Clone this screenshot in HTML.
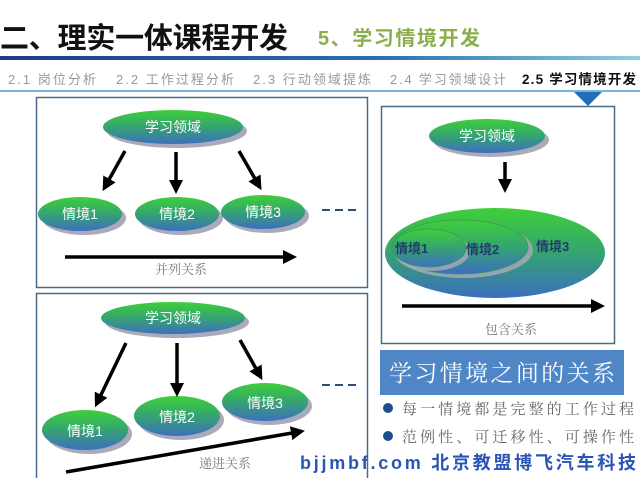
<!DOCTYPE html>
<html><head><meta charset="utf-8"><style>
body{margin:0;background:#fff;}
svg{display:block;font-family:"Liberation Sans","Noto Sans CJK SC",sans-serif;}
</style></head><body>
<svg width="640" height="478" viewBox="0 0 640 478" xmlns="http://www.w3.org/2000/svg">
<defs>
<linearGradient id="g" x1="0" y1="0" x2="0" y2="1"><stop offset="0" stop-color="#3fcf3a"/><stop offset="0.45" stop-color="#35a86a"/><stop offset="1" stop-color="#3c6fbf"/></linearGradient>
<linearGradient id="hl" x1="0" y1="0" x2="1" y2="0"><stop offset="0" stop-color="#1f3a8a"/><stop offset="0.6" stop-color="#2a6fb0"/><stop offset="1" stop-color="#8fd0e0"/></linearGradient>
<marker id="ah" markerWidth="4" markerHeight="4" refX="2" refY="2" orient="auto" markerUnits="strokeWidth"><path d="M0,0 L4,2 L0,4z" fill="#000"/></marker>
</defs>
<text x="0" y="48" font-size="29" font-weight="bold" fill="#111" textLength="288">二、理实一体课程开发</text>
<text x="318" y="45" font-size="20" font-weight="bold" fill="#8aae4a" textLength="162">5、学习情境开发</text>
<rect x="0" y="56" width="640" height="4" fill="url(#hl)"/>
<g font-size="13" fill="#999">
<text x="8" y="84" textLength="88">2.1 岗位分析</text><text x="116" y="84" textLength="118">2.2 工作过程分析</text><text x="253" y="84" textLength="118">2.3 行动领域提炼</text><text x="390" y="84" textLength="116">2.4 学习领域设计</text>
</g>
<text x="522" y="84" font-size="13.5" font-weight="bold" fill="#111" textLength="114">2.5 学习情境开发</text>
<line x1="0" y1="91" x2="640" y2="91" stroke="#4a9ec8" stroke-width="1.5"/>
<path d="M574,92 L602,92 L588,106z" fill="#1f6fb8"/>

<rect x="36.5" y="97.5" width="331" height="190" fill="#fff" stroke="#4a6a8a" stroke-width="1.5"/>
<rect x="36.5" y="293.5" width="331" height="190" fill="#fff" stroke="#4a6a8a" stroke-width="1.5"/>
<rect x="381.5" y="106.5" width="233" height="237" fill="#fff" stroke="#4a6a8a" stroke-width="1.5"/>

<g font-size="14" fill="#fff" text-anchor="middle">
<ellipse cx="177" cy="131" rx="70" ry="17" fill="#aab"/>
<ellipse cx="173" cy="127" rx="70" ry="17" fill="url(#g)"/><text x="173" y="132">学习领域</text>
<ellipse cx="84" cy="218" rx="42" ry="17" fill="#aab"/><ellipse cx="80" cy="214" rx="42" ry="17" fill="url(#g)"/><text x="80" y="219">情境1</text>
<ellipse cx="181" cy="218" rx="42" ry="17" fill="#aab"/><ellipse cx="177" cy="214" rx="42" ry="17" fill="url(#g)"/><text x="177" y="219">情境2</text>
<ellipse cx="267" cy="216" rx="42" ry="17" fill="#aab"/><ellipse cx="263" cy="212" rx="42" ry="17" fill="url(#g)"/><text x="263" y="217">情境3</text>
<ellipse cx="177" cy="322" rx="72" ry="16" fill="#aab"/><ellipse cx="173" cy="318" rx="72" ry="16" fill="url(#g)"/><text x="173" y="323">学习领域</text>
<ellipse cx="89" cy="434" rx="43" ry="20" fill="#aab"/><ellipse cx="85" cy="430" rx="43" ry="20" fill="url(#g)"/><text x="85" y="436">情境1</text>
<ellipse cx="181" cy="420" rx="43" ry="20" fill="#aab"/><ellipse cx="177" cy="416" rx="43" ry="20" fill="url(#g)"/><text x="177" y="422">情境2</text>
<ellipse cx="269" cy="406" rx="43" ry="19" fill="#aab"/><ellipse cx="265" cy="402" rx="43" ry="19" fill="url(#g)"/><text x="265" y="408">情境3</text>
<ellipse cx="491" cy="140" rx="58" ry="17" fill="#aab"/><ellipse cx="487" cy="136" rx="58" ry="17" fill="url(#g)"/><text x="487" y="141">学习领域</text>
</g>
<ellipse cx="495" cy="253" rx="110" ry="45" fill="url(#g)"/>
<ellipse cx="463" cy="250" rx="70" ry="28" fill="#aab" opacity="0.8"/>
<ellipse cx="460" cy="247" rx="68" ry="27" fill="url(#g)" stroke="#3a9a50" stroke-width="0.8"/>
<ellipse cx="432" cy="251" rx="38" ry="20" fill="#aab" opacity="0.8"/>
<ellipse cx="429" cy="248" rx="37" ry="19" fill="url(#g)" stroke="#3a9a50" stroke-width="0.8"/>
<g font-size="13" fill="#1f3d6a" font-weight="bold">
<text x="395" y="253">情境1</text><text x="466" y="254">情境2</text><text x="536" y="251">情境3</text>
</g>

<g stroke="#000" stroke-width="3.5" marker-end="url(#ah)">
<line x1="125" y1="151" x2="106" y2="185"/><line x1="176" y1="152" x2="176" y2="187"/><line x1="239" y1="151" x2="258" y2="184"/>
<line x1="65" y1="257" x2="290" y2="257"/>
<line x1="126" y1="343" x2="98" y2="401"/><line x1="177" y1="343" x2="177" y2="390"/><line x1="240" y1="340" x2="259" y2="374"/>
<line x1="66" y1="472" x2="298" y2="432"/>
<line x1="505" y1="162" x2="505" y2="186"/>
<line x1="402" y1="306" x2="598" y2="306"/>
</g>
<g stroke="#2a4f7a" stroke-width="2" stroke-dasharray="8,5">
<line x1="322" y1="210" x2="358" y2="210"/><line x1="322" y1="385" x2="358" y2="385"/>
</g>
<g font-size="13" fill="#777" text-anchor="middle" font-family="Liberation Serif,Noto Serif CJK SC,serif">
<text x="181" y="274">并列关系</text><text x="225" y="468">递进关系</text><text x="511" y="334">包含关系</text>
</g>

<rect x="380" y="350" width="244" height="45" fill="#4f86c6"/>
<text x="389" y="381" font-size="23" fill="#fff" font-family="Liberation Serif,Noto Serif CJK SC,serif" textLength="226">学习情境之间的关系</text>
<circle cx="388" cy="408" r="5" fill="#1f4e8a"/>
<text x="402" y="414" font-size="15" fill="#666" font-family="Liberation Serif,Noto Serif CJK SC,serif" textLength="232">每一情境都是完整的工作过程</text>
<circle cx="388" cy="436" r="5" fill="#1f4e8a"/>
<text x="402" y="442" font-size="15" fill="#666" font-family="Liberation Serif,Noto Serif CJK SC,serif" textLength="232">范例性、可迁移性、可操作性</text>
<text x="300" y="469" font-size="18" font-weight="bold" fill="#2a55b5" textLength="336">bjjmbf.com 北京教盟博飞汽车科技</text>
</svg>
</body></html>
